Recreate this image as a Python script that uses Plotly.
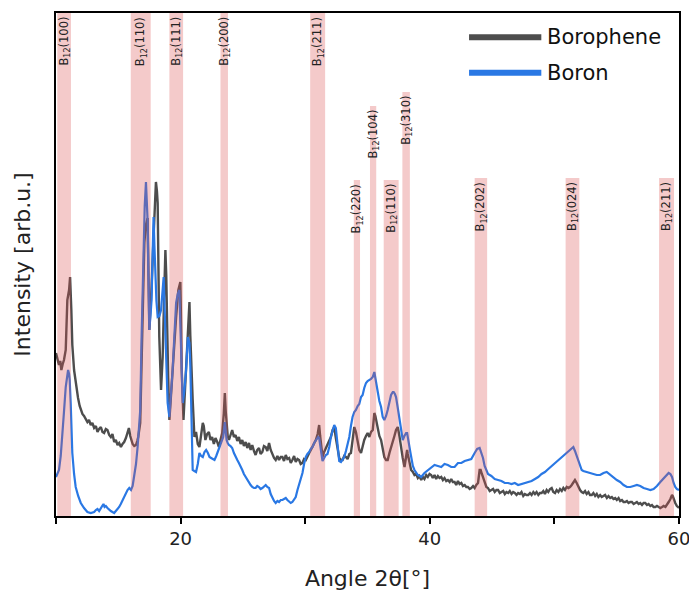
import plotly.graph_objects as go

# ---------------- data ----------------
borophene_angle = [10.00,10.12,10.24,10.34,10.43,10.54,10.64,10.78,10.91,11.05,11.13,11.23,11.31,11.45,11.59,11.77,11.90,11.99,12.12,12.25,
12.38,12.52,12.65,12.79,12.92,13.06,13.20,13.33,13.46,13.60,13.73,13.86,14.00,14.13,14.27,14.40,14.53,14.67,14.80,14.94,
15.07,15.21,15.34,15.47,15.61,15.74,15.85,15.96,16.06,16.15,16.28,16.42,16.52,16.60,16.76,16.87,16.98,17.09,17.20,17.35,
17.49,17.58,17.67,17.83,17.95,18.02,18.10,18.16,18.22,18.29,18.43,18.56,18.68,18.78,18.85,18.91,19.00,19.10,19.22,19.36,
19.50,19.64,19.82,19.98,20.04,20.09,20.23,20.33,20.44,20.58,20.71,20.78,20.85,20.97,21.11,21.24,21.38,21.51,21.59,21.70,
21.78,21.86,21.99,22.13,22.27,22.40,22.53,22.67,22.80,22.94,23.07,23.20,23.34,23.47,23.55,23.62,23.69,23.78,23.88,24.01,
24.14,24.28,24.41,24.55,24.68,24.82,24.95,25.08,25.22,25.35,25.49,25.62,25.75,25.89,26.02,26.15,26.29,26.42,26.56,26.69,
26.83,26.96,27.10,27.23,27.36,27.50,27.63,27.77,27.90,28.04,28.17,28.30,28.44,28.57,28.71,28.84,28.97,29.11,29.24,29.38,
29.51,29.64,29.78,29.91,30.05,30.18,30.32,30.45,30.59,30.72,30.85,31.00,31.12,31.20,31.26,31.39,31.52,31.66,31.79,31.93,
32.06,32.20,32.33,32.46,32.60,32.73,32.87,33.00,33.13,33.27,33.40,33.54,33.67,33.80,33.94,34.07,34.21,34.34,34.48,34.61,
34.74,34.88,35.01,35.15,35.28,35.42,35.55,35.63,35.74,35.82,35.95,36.09,36.22,36.35,36.49,36.62,36.76,36.89,37.03,37.16,
37.29,37.43,37.56,37.70,37.83,37.97,38.10,38.18,38.23,38.37,38.50,38.64,38.77,38.90,39.04,39.17,39.31,39.44,39.57,39.71,
39.84,39.98,40.11,40.24,40.38,40.51,40.65,40.78,40.92,41.05,41.18,41.32,41.45,41.59,41.72,41.85,41.99,42.12,42.26,42.39,
42.53,42.66,42.80,42.93,43.06,43.20,43.33,43.47,43.60,43.73,43.87,44.00,44.08,44.18,44.27,44.40,44.54,44.67,44.81,44.94,
45.08,45.21,45.35,45.48,45.62,45.75,45.89,46.02,46.15,46.29,46.42,46.56,46.69,46.82,46.96,47.09,47.23,47.36,47.50,47.63,
47.77,47.90,48.04,48.17,48.31,48.44,48.57,48.71,48.84,48.97,49.11,49.24,49.38,49.51,49.65,49.78,49.91,50.05,50.18,50.32,
50.45,50.59,50.72,50.85,50.99,51.12,51.25,51.39,51.52,51.65,51.79,51.92,52.06,52.19,52.32,52.46,52.59,52.73,52.86,53.00,
53.13,53.27,53.40,53.53,53.67,53.80,53.94,54.07,54.21,54.34,54.48,54.61,54.74,54.88,55.01,55.15,55.28,55.42,55.55,55.68,
55.82,55.95,56.09,56.22,56.36,56.49,56.62,56.76,56.89,57.03,57.16,57.29,57.43,57.56,57.70,57.83,57.96,58.10,58.23,58.37,
58.50,58.64,58.77,58.91,59.04,59.17,59.31,59.44,59.50,59.58,59.70,59.83,59.97,60.00]
borophene_intensity = [163,158,151,155,146,152,156,166,216,226,239,206,171,146,131,118,110,106,102,100,
97,94,96,91,93,88,90,84,87,89,84,83,87,86,81,79,82,74,76,71,
73,69,72,74,78,83,88,80,76,72,70,71,75,79,93,146,215,273,290,298,
186,205,229,279,310,334,325,313,250,179,126,159,220,266,240,193,140,96,120,146,
175,199,226,234,190,146,96,120,146,185,214,180,146,116,79,84,72,69,76,88,
93,90,76,82,84,76,79,72,78,74,69,76,83,103,123,105,89,80,76,82,
86,79,81,75,79,72,76,70,74,68,73,66,71,65,61,66,68,62,64,70,
69,65,73,66,61,58,56,60,56,59,59,55,61,57,58,53,56,60,54,57,
56,52,53,57,56,60,63,66,69,72,76,82,91,80,73,59,64,68,72,76,
79,86,89,78,66,58,56,56,60,59,57,62,63,75,89,84,73,66,63,70,
76,80,83,79,84,86,103,100,92,86,80,76,66,59,56,56,63,68,73,80,
86,89,80,66,58,49,58,66,62,55,46,44,41,42,38,40,36,39,37,41,
39,42,41,38,41,37,40,38,39,36,38,35,36,34,37,34,34,31,35,32,
33,30,31,29,29,27,28,30,28,31,33,46,46,42,39,34,29,28,25,26,
27,24,26,26,23,24,25,22,24,23,25,22,24,23,21,23,22,24,20,22,
21,21,23,21,24,22,24,21,23,23,25,22,26,24,27,28,24,23,26,24,
27,25,28,26,29,28,29,31,33,36,33,29,26,24,23,25,22,24,21,21,
23,20,22,19,21,19,20,21,18,20,18,19,17,18,16,18,15,16,14,14,
15,13,14,14,12,13,14,12,13,11,13,13,11,12,10,11,9,9,10,9,
8,9,10,9,11,14,17,21,20,16,13,10,9,8]

boron_angle = [10.00,10.12,10.24,10.38,10.51,10.64,10.78,10.88,10.97,11.05,11.10,11.18,11.24,11.31,11.45,11.58,11.78,11.99,12.25,12.52,
12.79,13.06,13.20,13.33,13.46,13.60,13.73,13.81,13.90,14.00,14.13,14.27,14.40,14.53,14.67,14.80,14.94,15.07,15.20,15.34,
15.47,15.61,15.74,15.88,16.02,16.15,16.28,16.42,16.55,16.66,16.76,16.87,16.95,17.03,17.12,17.22,17.35,17.42,17.49,17.58,
17.67,17.75,17.83,17.90,17.97,18.06,18.16,18.30,18.43,18.54,18.64,18.70,18.75,18.85,18.96,19.10,19.22,19.36,19.50,19.64,
19.77,19.90,19.97,20.04,20.17,20.30,20.44,20.58,20.71,20.78,20.85,20.91,20.97,21.10,21.24,21.38,21.51,21.65,21.78,21.92,
22.05,22.19,22.32,22.45,22.59,22.72,22.86,22.94,23.07,23.20,23.32,23.42,23.55,23.62,23.69,23.78,23.88,24.01,24.14,24.28,
24.41,24.55,24.68,24.82,24.95,25.08,25.22,25.35,25.49,25.62,25.75,25.89,26.02,26.15,26.29,26.42,26.56,26.69,26.83,26.96,
27.10,27.23,27.36,27.50,27.63,27.77,27.90,28.04,28.17,28.30,28.44,28.57,28.71,28.84,28.97,29.11,29.24,29.38,29.51,29.64,
29.78,29.91,30.05,30.18,30.32,30.45,30.59,30.72,30.85,31.04,31.12,31.26,31.39,31.52,31.66,31.79,31.93,32.06,32.20,32.33,
32.46,32.60,32.73,32.87,33.00,33.13,33.27,33.40,33.54,33.67,33.80,33.94,34.07,34.21,34.34,34.48,34.61,34.74,34.88,35.01,
35.15,35.28,35.42,35.55,35.63,35.74,35.82,35.95,36.09,36.22,36.35,36.49,36.62,36.76,36.89,37.03,37.10,37.20,37.29,37.43,
37.56,37.70,37.83,37.96,38.10,38.18,38.30,38.45,38.64,38.77,39.04,39.31,39.57,39.84,40.11,40.38,40.65,40.92,41.18,41.45,
41.72,41.99,42.26,42.53,42.80,43.06,43.33,43.60,43.80,44.00,44.13,44.27,44.40,44.54,44.67,44.94,45.21,45.48,45.75,46.02,
46.29,46.56,46.82,47.09,47.36,47.63,47.90,48.17,48.44,48.70,48.97,49.24,49.51,49.78,50.05,50.32,50.58,50.85,51.12,51.35,
51.52,51.65,51.79,51.92,52.06,52.19,52.32,52.59,52.86,53.13,53.40,53.67,53.94,54.20,54.47,54.74,55.01,55.28,55.55,55.82,
56.09,56.36,56.62,56.89,57.16,57.43,57.70,57.96,58.23,58.50,58.77,59.04,59.17,59.31,59.44,59.57,59.70,59.83,60.00]
boron_intensity = [39,42,46,60,79,104,129,140,146,142,136,113,88,63,42,29,20,13,8,4,
3,4,6,7,5,8,10,12,9,10,8,6,5,4,3,5,7,9,12,16,
20,24,26,28,26,30,39,52,69,88,106,179,230,273,310,334,296,240,186,200,
216,260,299,270,236,215,199,200,206,225,239,215,193,150,113,99,118,146,180,213,
222,226,195,159,113,125,146,179,173,150,119,80,46,45,44,52,63,60,59,64,
66,63,59,58,57,56,60,63,67,71,76,79,94,85,76,73,71,70,68,63,
59,56,53,50,46,42,39,36,33,31,29,28,28,30,29,27,28,30,31,29,
28,22,18,15,13,15,14,16,16,17,18,16,14,13,14,17,19,26,32,38,
43,52,59,62,64,67,69,73,76,79,78,64,55,58,61,62,69,79,86,91,
88,73,55,54,56,59,65,72,79,90,99,104,106,110,112,119,121,128,133,135,
136,137,139,144,138,130,127,115,109,99,96,100,106,114,121,124,124,122,119,108,
96,84,76,80,83,83,72,63,50,46,41,39,43,46,48,51,50,49,52,51,
49,49,53,53,55,56,57,63,67,68,64,58,50,46,42,40,37,36,35,33,
33,32,33,31,32,33,34,35,37,39,42,44,47,50,53,56,59,62,64,67,
69,65,60,56,50,46,45,44,43,42,41,41,43,44,41,38,36,34,31,29,
29,30,31,30,28,27,26,27,30,34,38,42,43,42,39,33,29,27,26]

# reflection bands: angular start/end, height of band top, label
band_start = [10.1, 16.0, 19.1, 23.2, 30.4, 33.9, 35.2, 36.3, 37.8, 43.6, 50.9, 58.4]
band_end   = [11.2, 17.6, 20.2, 23.8, 31.6, 34.4, 35.7, 37.5, 38.4, 44.6, 52.0, 59.6]
band_top   = [503, 503, 503, 503, 503, 336, 410, 336, 424, 338, 338, 338]
band_label = ["(100)", "(110)", "(111)", "(200)", "(211)", "(220)", "(104)",
              "(110)", "(310)", "(202)", "(024)", "(211)"]

x_tick_vals = [10, 20, 30, 40, 50, 60]
x_tick_text = ["", "20", "", "40", "", "60"]

FONT = "DejaVu Sans"
GRAY = "#4d4d4d"
BLUE = "#2a78e4"

fig = go.Figure()
fig.add_trace(go.Scatter(x=borophene_angle, y=borophene_intensity, mode="lines",
                         name="Borophene", line=dict(color=GRAY, width=2.4),
                         showlegend=False))
fig.add_trace(go.Scatter(x=boron_angle, y=boron_intensity, mode="lines",
                         name="Boron", line=dict(color=BLUE, width=2.2),
                         showlegend=False))

shapes = []
annotations = []
for x0, x1, top, lab in zip(band_start, band_end, band_top, band_label):
    shapes.append(dict(type="rect", xref="x", yref="y", x0=x0, x1=x1, y0=0, y1=top,
                       fillcolor="rgba(220,80,80,0.3)", line=dict(width=0),
                       layer="above"))
    annotations.append(dict(x=(x0 + x1) / 2, y=top, xref="x", yref="y",
                            text="B<sub>12</sub>" + lab, textangle=-90,
                            showarrow=False, xanchor="center", yanchor="top",
                            yshift=-2, font=dict(family=FONT, size=11.5, color="#222")))

# manual legend (long thick line samples)
legend_items = [("Borophene", GRAY, 0.952), ("Boron", BLUE, 0.881)]
for name, col, yy in legend_items:
    shapes.append(dict(type="line", xref="paper", yref="paper", x0=0.663, x1=0.779,
                       y0=yy, y1=yy, line=dict(color=col, width=6), layer="above"))
    annotations.append(dict(x=0.785, y=yy, xref="paper", yref="paper", text=name,
                            showarrow=False, xanchor="left", yanchor="middle",
                            font=dict(family=FONT, size=21, color="#111")))

fig.update_layout(
    width=689, height=599,
    margin=dict(l=56, r=10, t=13, b=83),
    paper_bgcolor="white", plot_bgcolor="white",
    shapes=shapes, annotations=annotations,
    font=dict(family=FONT, color="#222"),
    showlegend=False,
)
fig.update_xaxes(range=[10, 60], tickvals=x_tick_vals, ticktext=x_tick_text,
                 ticks="outside", ticklen=6, tickwidth=1.5, tickcolor="black",
                 showline=True, linecolor="black", linewidth=1.5, mirror=True,
                 showgrid=False, zeroline=False, automargin=False,
                 ticklabeloverflow="allow",
                 tickfont=dict(family=FONT, size=18, color="#222"),
                 title=dict(text="Angle 2θ[°]", standoff=22,
                            font=dict(family=FONT, size=22, color="#222")))
fig.update_yaxes(range=[0, 503], showticklabels=False, ticks="",
                 showline=True, linecolor="black", linewidth=1.5, mirror=True,
                 showgrid=False, zeroline=False, automargin=False,
                 title=dict(text="Intensity [arb.u.]", standoff=18,
                            font=dict(family=FONT, size=22, color="#222")))

fig.write_html("out.html", config={"displayModeBar": False},
               post_script="document.body.style.margin='0';document.body.style.overflow='hidden';")
